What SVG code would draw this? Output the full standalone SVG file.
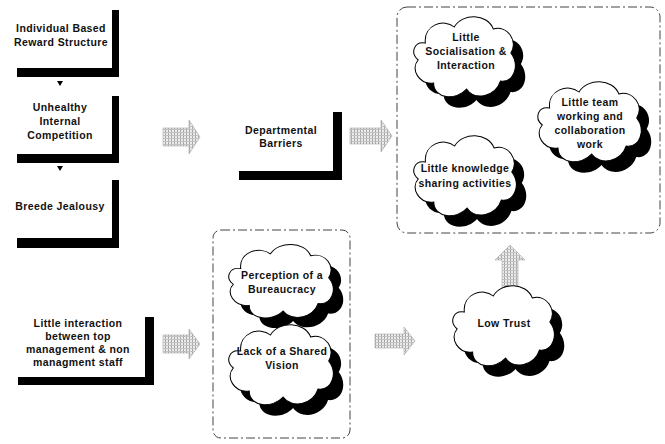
<svg xmlns="http://www.w3.org/2000/svg" xmlns:xlink="http://www.w3.org/1999/xlink" width="665" height="444" viewBox="0 0 665 444">
<style>
text{font-family:"Liberation Sans",Arial,sans-serif;font-weight:bold;font-size:10.5px;fill:#111;text-anchor:middle;letter-spacing:0.4px}
.bar{fill:#000}
.frame{fill:none;stroke:#444;stroke-width:1;stroke-dasharray:9,3,2,3}
.cloud{fill:#fff;stroke:#000;stroke-width:1}
.shadow{fill:#000}
.garrow{fill:url(#hatch);stroke:#aaa;stroke-width:0.6}
.tri{fill:#000}
</style>
<defs>
<pattern id="hatch" width="3" height="3" patternUnits="userSpaceOnUse">
<rect width="3" height="3" fill="#ececec"/>
<rect width="1" height="3" fill="#a6a6a6"/>
<rect width="3" height="1" fill="#c2c2c2"/>
</pattern>
<path id="cl" d="M12,30 C10,12 30,5 40,14 C48,0 72,0 78,16 C92,12 102,28 95,40 C104,52 98,70 85,68 C80,84 60,88 52,76 C42,88 20,86 20,70 C6,72 -3,56 5,47 C-3,40 1,28 12,30 Z"/>
</defs>
<rect width="665" height="444" fill="#fff"/>

<g id="containers">
<rect class="frame" x="397" y="7" width="263" height="226" rx="10"/>
<rect class="frame" x="213" y="230" width="137" height="208" rx="8"/>
</g>

<g id="connectors">
<polygon class="tri" points="57,81 63,81 60,86"/>
<polygon class="tri" points="57,166 63,166 60,171"/>
<path class="garrow" d="M163,128 H189 V120 L200,137 L189,154 V146 H163 Z"/>
<path class="garrow" d="M350,128 H381 V120 L392,136 L381,152 V144 H350 Z"/>
<path class="garrow" d="M163,335 H189 V329 L200,344 L189,359 V353 H163 Z"/>
<path class="garrow" d="M375,334 H404 V327 L415,341 L404,355 V348 H375 Z"/>
<path class="garrow" d="M502,300 V260 H495 L510,245 L525,260 H518 V300 Z"/>
</g>

<g id="n-reward">
<path class="bar" d="M112,10 H119 V77 H17 V68 H112 Z"/>
<text x="61" y="32">Individual Based</text>
<text x="61" y="46">Reward Structure</text>
</g>
<g id="n-competition">
<path class="bar" d="M112,96 H119 V163 H17 V154 H112 Z"/>
<text x="60" y="111">Unhealthy</text>
<text x="60" y="125">Internal</text>
<text x="60" y="139">Competition</text>
</g>
<g id="n-jealousy">
<path class="bar" d="M112,180 H119 V248 H17 V238 H112 Z"/>
<text x="60" y="210">Breede Jealousy</text>
</g>
<g id="n-interaction">
<path class="bar" d="M145,317 H154 V385 H18 V377 H145 Z"/>
<text x="78" y="327">Little interaction</text>
<text x="78" y="340">between top</text>
<text x="78" y="353">management &amp; non</text>
<text x="78" y="366">managment staff</text>
</g>
<g id="n-barriers">
<path class="bar" d="M333,112 H342 V180 H239 V171 H333 Z"/>
<text x="281" y="134">Departmental</text>
<text x="281" y="147">Barriers</text>
</g>

<g id="n-socialisation">
<use xlink:href="#cl" class="shadow" transform="translate(423,24) scale(1.03,1.0)"/>
<use xlink:href="#cl" class="cloud" transform="translate(413,13) scale(1.03,1.0)"/>
<text x="466" y="41">Little</text>
<text x="466" y="55">Socialisation &amp;</text>
<text x="466" y="69">Interaction</text>
</g>
<g id="n-teamwork">
<use xlink:href="#cl" class="shadow" transform="translate(547,89) scale(1.05,1.0)"/>
<use xlink:href="#cl" class="cloud" transform="translate(537,78) scale(1.05,1.0)"/>
<text x="590" y="106">Little team</text>
<text x="590" y="120">working and</text>
<text x="590" y="134">collaboration</text>
<text x="590" y="148">work</text>
</g>
<g id="n-knowledge">
<use xlink:href="#cl" class="shadow" transform="translate(423,143) scale(1.04,1.0)"/>
<use xlink:href="#cl" class="cloud" transform="translate(413,132) scale(1.04,1.0)"/>
<text x="465" y="172">Little knowledge</text>
<text x="465" y="187">sharing activities</text>
</g>
<g id="n-bureaucracy">
<use xlink:href="#cl" class="shadow" transform="translate(238,251) scale(1.06,0.92)"/>
<use xlink:href="#cl" class="cloud" transform="translate(228,241) scale(1.06,0.92)"/>
<text x="282" y="279">Perception of a</text>
<text x="282" y="293">Bureaucracy</text>
</g>
<g id="n-vision">
<use xlink:href="#cl" class="shadow" transform="translate(238,332) scale(1.06,1.0)"/>
<use xlink:href="#cl" class="cloud" transform="translate(228,321) scale(1.06,1.0)"/>
<text x="282" y="355">Lack of a Shared</text>
<text x="282" y="369">Vision</text>
</g>
<g id="n-lowtrust">
<use xlink:href="#cl" class="shadow" transform="translate(462,293) scale(1.03,1.0)"/>
<use xlink:href="#cl" class="cloud" transform="translate(452,282) scale(1.03,1.0)"/>
<text x="504" y="327">Low Trust</text>
</g>
</svg>
